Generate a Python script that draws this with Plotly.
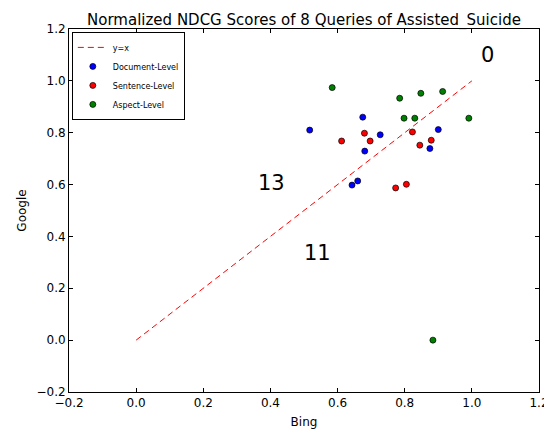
import plotly.graph_objects as go

doc_x = [0.517, 0.675, 0.727, 0.681, 0.900, 0.875, 0.643, 0.660]
doc_y = [0.810, 0.860, 0.792, 0.729, 0.812, 0.739, 0.598, 0.614]
sent_x = [0.612, 0.680, 0.697, 0.823, 0.879, 0.845, 0.773, 0.805]
sent_y = [0.768, 0.798, 0.768, 0.803, 0.771, 0.752, 0.587, 0.601]
asp_x = [0.584, 0.785, 0.848, 0.913, 0.798, 0.830, 0.991, 0.884]
asp_y = [0.974, 0.933, 0.952, 0.959, 0.856, 0.856, 0.856, 0.0]
diag = [0.0, 1.0]
labels = ["0", "13", "11"]
label_x = [1.048, 0.402, 0.539]
label_y = [1.10, 0.606, 0.336]
ticks = [-0.2, 0.0, 0.2, 0.4, 0.6, 0.8, 1.0, 1.2]

fig = go.Figure()
fig.add_trace(go.Scatter(x=diag, y=diag, mode="lines", name="y=x",
                         line=dict(color="#ff0000", dash="6px,4px", width=1)))
for name, xs, ys, c in [("Document-Level", doc_x, doc_y, "#0000ff"),
                        ("Sentence-Level", sent_x, sent_y, "#ff0000"),
                        ("Aspect-Level", asp_x, asp_y, "#008000")]:
    fig.add_trace(go.Scatter(x=xs, y=ys, mode="markers", name=name,
                             marker=dict(color=c, size=6, line=dict(color="black", width=0.7))))
for t, x, y in zip(labels, label_x, label_y):
    fig.add_annotation(x=x, y=y, text=t, showarrow=False, font=dict(size=21, color="black"))

axis = dict(range=[-0.2, 1.2], tickvals=ticks, ticktext=[f"{v:.1f}".replace("-", "\u2212") for v in ticks],
            showgrid=False, zeroline=False, showline=True, linecolor="black", linewidth=1,
            mirror="allticks", ticks="inside", ticklen=4, tickcolor="black",
            tickfont=dict(size=12, color="black"), automargin=False)
# page body has an 8px default margin, so the figure is sized to fit the 552x429 window
fig.update_layout(
    width=544, height=421,
    margin=dict(l=61, r=13, t=21, b=37),
    paper_bgcolor="white", plot_bgcolor="white",
    font=dict(family="DejaVu Sans", color="black"),
    title=dict(text="Normalized NDCG Scores of 8 Queries of Assisted_Suicide",
               x=0.5, xref="paper", xanchor="center", y=1, yref="paper", yanchor="bottom",
               pad=dict(b=4), font=dict(size=15), automargin=False),
    xaxis=dict(axis, title=dict(text="Bing", font=dict(size=12), standoff=8)),
    yaxis=dict(axis, title=dict(text="Google", font=dict(size=12), standoff=7)),
    legend=dict(x=0.006, y=0.992, xanchor="left", yanchor="top", bgcolor="white",
                bordercolor="black", borderwidth=1, font=dict(size=8),
                itemwidth=30, tracegroupgap=0),
    showlegend=True,
)
fig.write_html("out.html")
